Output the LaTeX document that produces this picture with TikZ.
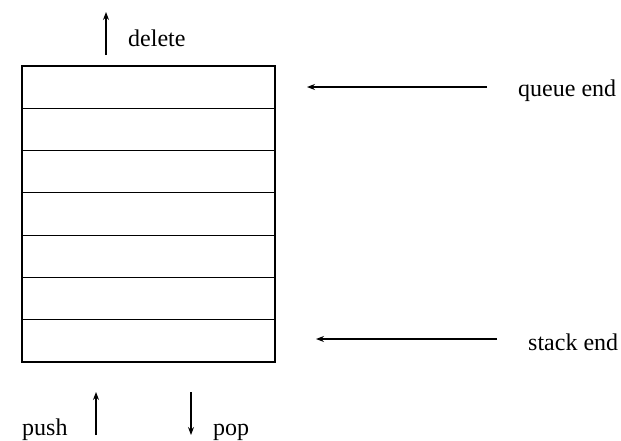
\documentclass[tikz,border=0pt]{standalone}
\usepackage{fontspec}
\setmainfont{Liberation Serif}
\usetikzlibrary{arrows.meta}
\begin{document}
\begin{tikzpicture}[x=1pt,y=-1pt,
  cell/.style={draw,line width=1.2pt,minimum width=253pt,minimum height=42.3pt,inner sep=0pt,outer sep=0pt},
  lbl/.style={font=\fontsize{24}{24}\selectfont,inner sep=0pt,anchor=base west},
  flow/.style={line width=1.1pt,-{Stealth[length=8pt,width=6pt]}}]
\useasboundingbox (0,0) rectangle (621,440);
% the seven slots of the list
\foreach \i in {1,...,7}{
  \node[cell,anchor=north west] (row\i) at (22,{66+42.28*(\i-1)}) {};
}
% operation labels
\node[lbl] (del) at (128,46) {delete};
\node[lbl] (qe) at (518,96) {queue end};
\node[lbl] (se) at (528,350) {stack end};
\node[lbl] (push) at (22,435) {push};
\node[lbl] (pop) at (213,435) {pop};
% arrow end points
\coordinate (d0) at (106,55);  \coordinate (d1) at (106,12);
\coordinate (q0) at (487,87);  \coordinate (q1) at (307,87);
\coordinate (s0) at (497,339); \coordinate (s1) at (316,339);
\coordinate (u0) at (96,435);  \coordinate (u1) at (96,392);
\coordinate (p0) at (191,392); \coordinate (p1) at (191,435);
\draw[flow] (d0) -- (d1);
\draw[flow] (q0) -- (q1);
\draw[flow] (s0) -- (s1);
\draw[flow] (u0) -- (u1);
\draw[flow] (p0) -- (p1);
\end{tikzpicture}
\end{document}
